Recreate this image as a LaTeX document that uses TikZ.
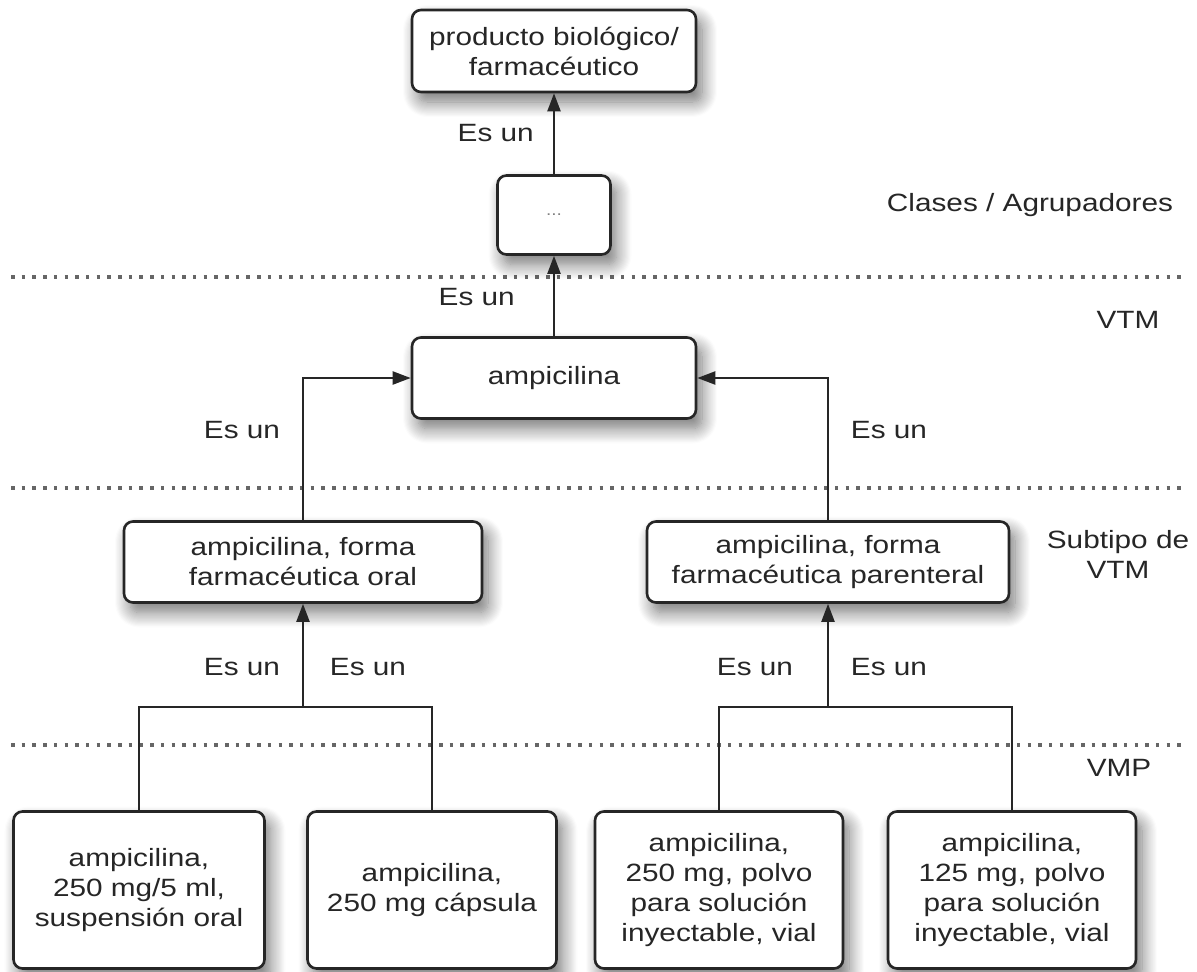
\documentclass[tikz,border=0pt]{standalone}
\usepackage{fontspec}
\setmainfont{Liberation Sans}[FakeStretch=1.19]
\usetikzlibrary{arrows.meta}
\usetikzlibrary{shadows.blur}

\tikzset{
  caja/.style={draw=black!85, line width=2.6pt, rounded corners=9pt, fill=white,
    align=center, inner sep=2pt, text=black!85, font=\fontsize{25}{30}\selectfont,
    blur shadow={shadow xshift=6pt, shadow yshift=-10pt, shadow blur radius=15pt,
      shadow blur steps=14, shadow opacity=55}},
  esun/.style={text=black!85, font=\fontsize{25}{30}\selectfont, inner sep=0pt},
  capa/.style={text=black!85, font=\fontsize{25}{30}\selectfont, align=center, inner sep=0pt},
  flecha/.style={draw=black!85, line width=2.2pt, -{Triangle[length=18pt,width=13pt]}},
  linea/.style={draw=black!85, line width=2.2pt},
  puntos/.style={draw=black!60, line width=3.5pt, dash pattern=on 3.5pt off 7.2pt}
}

\begin{document}
\begin{tikzpicture}[x=1pt,y=-1pt]
				\useasboundingbox (0,0) rectangle (1197,972);
				% draw layers
				\draw[puntos] (11,277) -- (1187,277);
				\draw[puntos] (11,488) -- (1187,488);
				\draw[puntos] (11,745) -- (1187,745);
				% boxes
				\node[caja, minimum width=284pt, minimum height=82pt] (prod) at (554,51) {producto biológico/\\farmacéutico};
				\node[caja, minimum width=113pt, minimum height=79pt] (grupo) at (554,215) {\fontsize{16}{18}\selectfont\color{black!50}...};
				\node[caja, minimum width=284pt, minimum height=81pt] (amp) at (554,378) {ampicilina};
				\node[caja, minimum width=358pt, minimum height=81pt] (oral) at (303,562) {ampicilina, forma\\farmacéutica oral};
				\node[caja, minimum width=362pt, minimum height=81pt] (parent) at (828,562) {ampicilina, forma\\farmacéutica parenteral};
				\node[caja, minimum width=251pt, minimum height=157pt] (susp) at (139,890) {ampicilina,\\250 mg/5 ml,\\suspensión oral};
				\node[caja, minimum width=249pt, minimum height=157pt] (caps) at (432,890) {ampicilina,\\250 mg cápsula};
				\node[caja, minimum width=248pt, minimum height=157pt] (vialA) at (719,890) {ampicilina,\\250 mg, polvo\\para solución\\inyectable, vial};
				\node[caja, minimum width=248pt, minimum height=157pt] (vialB) at (1012,890) {ampicilina,\\125 mg, polvo\\para solución\\inyectable, vial};
				% add arrows
				\coordinate (jizq) at (303,707);
				\coordinate (jder) at (828,707);
				\draw[linea] (susp.north) |- (jizq) -| (caps.north);
				\draw[linea] (vialA.north) |- (jder) -| (vialB.north);
				\draw[flecha] (jizq) -- (oral.south);
				\draw[flecha] (jder) -- (parent.south);
				\draw[flecha] (oral.north) |- (amp.west);
				\draw[flecha] (parent.north) |- (amp.east);
				\draw[flecha] (amp.north) -- (grupo.south);
				\draw[flecha] (grupo.north) -- (prod.south);
				% labels
				\node[esun, anchor=east] (e1) at (534,133) {Es un};
				\node[esun, anchor=east] (e2) at (515,297) {Es un};
				\node[esun] (e3) at (242,430) {Es un};
				\node[esun] (e4) at (889,430) {Es un};
				\node[esun] (e5) at (242,667) {Es un};
				\node[esun] (e6) at (368,667) {Es un};
				\node[esun] (e7) at (755,667) {Es un};
				\node[esun] (e8) at (889,667) {Es un};
				\node[capa] (clases) at (1030,205) {Clases / Agrupadores};
				\node[capa] (vtm) at (1128,320) {VTM};
				\node[capa] (subtipo) at (1118,554) {Subtipo de\\VTM};
				\node[capa] (vmp) at (1119,768) {VMP};
			\end{tikzpicture}
\end{document}
